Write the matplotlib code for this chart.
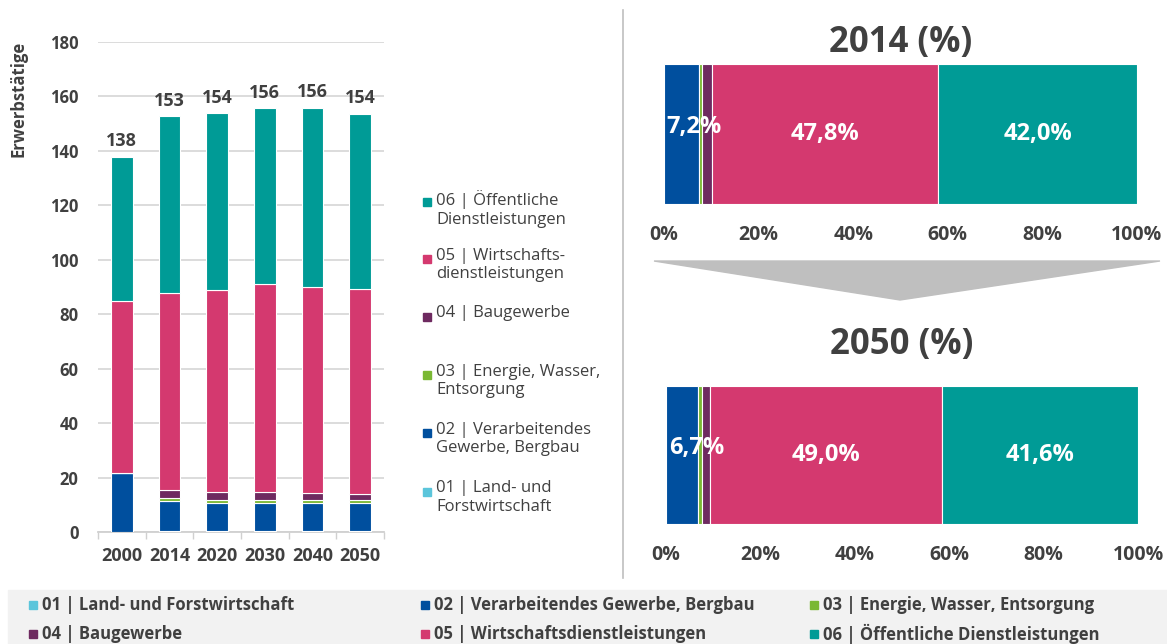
import matplotlib
matplotlib.use("Agg")
import matplotlib.pyplot as plt
from matplotlib.patches import Rectangle, Polygon
from matplotlib.lines import Line2D
import numpy as np

plt.rcParams['font.family'] = ['Open Sans', 'DejaVu Sans']

# ---------------- data ----------------
years = ["2000", "2014", "2020", "2030", "2040", "2050"]
sector_labels_short = ["01 | Land- und Forstwirtschaft",
                       "02 | Verarbeitendes Gewerbe, Bergbau",
                       "03 | Energie, Wasser, Entsorgung",
                       "04 | Baugewerbe",
                       "05 | Wirtschaftsdienstleistungen",
                       "06 | Öffentliche Dienstleistungen"]
sector_labels_wrapped = ["01 | Land- und\nForstwirtschaft",
                         "02 | Verarbeitendes\nGewerbe, Bergbau",
                         "03 | Energie, Wasser,\nEntsorgung",
                         "04 | Baugewerbe",
                         "05 | Wirtschafts-\ndienstleistungen",
                         "06 | Öffentliche\nDienstleistungen"]
colors = ["#5BC5DB", "#004F9E", "#7AB833", "#6E2A60", "#D4396F", "#009B96"]

s01_land = [0.0, 0.4, 0.4, 0.4, 0.4, 0.4]
s02_verarb = [21.8, 10.8, 10.2, 10.2, 10.2, 10.2]
s03_energie = [0.0, 1.3, 1.2, 1.2, 1.2, 1.0]
s04_bau = [0.0, 2.8, 2.8, 2.9, 2.4, 2.3]
s05_wirtschaft = [63.1, 72.5, 74.2, 76.2, 75.6, 75.4]
s06_oeffentlich = [52.9, 64.8, 65.0, 64.8, 66.0, 64.3]

share_2014 = [0.1, 7.2, 0.8, 2.1, 47.8, 42.0]
share_2050 = [0.1, 6.7, 0.8, 1.8, 49.0, 41.6]
pct_ticks = [0, 20, 40, 60, 80, 100]
y_ticks = [0, 20, 40, 60, 80, 100, 120, 140, 160, 180]

series = [s01_land, s02_verarb, s03_energie, s04_bau, s05_wirtschaft, s06_oeffentlich]

W, H = 1167, 644
fig = plt.figure(figsize=(W / 100, H / 100), dpi=100)
TXT = "#404040"


def ax_px(l, t, r, b):
    return fig.add_axes([l / W, 1 - b / H, (r - l) / W, (b - t) / H])


# ---------------- left stacked bar chart ----------------
ax = ax_px(98, 41.7, 384, 532)
x = np.arange(len(years))
bottom = np.zeros(len(years))
for vals, col in zip(series, colors):
    v = np.array(vals)
    ax.bar(x, v, bottom=bottom, width=0.455, color=col, edgecolor="white",
           linewidth=0.8, zorder=3)
    bottom += v
for xi, tot in zip(x, bottom):
    ax.annotate(f"{tot:.0f}", (xi, tot), xytext=(0, 4.5), textcoords="offset points",
                ha="center", va="bottom", fontsize=13, fontweight="bold", color=TXT)
ax.set_xlim(-0.5, len(years) - 0.5)
ax.set_ylim(0, 180)
ax.set_yticks(y_ticks)
ax.set_yticklabels([str(t) for t in y_ticks], fontsize=12, fontweight="bold", color=TXT)
ax.set_xticks(x)
ax.set_xticklabels(years, fontsize=13, fontweight="bold", color=TXT)
ax.set_xticks(np.arange(-0.5, len(years), 1.0), minor=True)
ax.tick_params(axis="x", which="major", length=0, pad=11)
ax.tick_params(axis="x", which="minor", length=5, color="#D0D0D0", width=1)
ax.tick_params(axis="y", length=0, pad=14)
ax.yaxis.grid(True, color="#D9D9D9", linewidth=1.3, zorder=0)
ax.set_axisbelow(True)
for sp in ["top", "right", "left"]:
    ax.spines[sp].set_visible(False)
ax.spines["bottom"].set_color("#D0D0D0")
ax.spines["bottom"].set_linewidth(1.3)
fig.text(19 / W, 1 - 99 / H, "Erwerbstätige", rotation=90, ha="center", va="center",
         fontsize=12, fontweight="bold", color=TXT)

# ---------------- middle legend ----------------
legend_y = [491.7, 433, 375, 316.7, 259, 201.7]  # first-line centers, for 01..06
for lab, col, yy in zip(sector_labels_wrapped, colors, legend_y):
    fig.patches.append(Rectangle((423 / W, 1 - (yy + 4) / H), 8 / W, 8 / H,
                                 transform=fig.transFigure, color=col))
    fig.text(436 / W, 1 - (yy - 11.5) / H, lab, ha="left", va="top", fontsize=12,
             color=TXT, linespacing=1.2)

# divider
fig.add_artist(Line2D([623 / W, 623 / W], [1 - 10 / H, 1 - 578 / H],
                      transform=fig.transFigure, color="#BFBFBF", linewidth=1.2))


# ---------------- right 100% bars ----------------
def share_bar(rect, shares, title, title_y):
    a = ax_px(*rect)
    left = 0.0
    for i, (s, col) in enumerate(zip(shares, colors)):
        a.barh(0, s, left=left, height=1.0, color=col, edgecolor="white",
               linewidth=0.8)
        lbl = f"{s:.1f}%".replace(".", ",")
        if i == 1:
            a.text(left + 0.5, 0.05, lbl, ha="left", va="center", color="white",
                   fontsize=17, fontweight="bold")
        elif s > 20:
            a.text(left + s / 2, 0, lbl, ha="center", va="center", color="white",
                   fontsize=17, fontweight="bold")
        left += s
    a.set_xlim(0, 100)
    a.set_ylim(-0.5, 0.5)
    a.set_yticks([])
    a.set_xticks(pct_ticks)
    a.set_xticklabels([f"{t}%" for t in pct_ticks], fontsize=14, fontweight="bold",
                      color=TXT)
    a.tick_params(axis="x", length=0, pad=15)
    for sp in a.spines.values():
        sp.set_visible(False)
    fig.text((rect[0] + rect[2]) / 2 / W, 1 - title_y / H, title, ha="center",
             va="center", fontsize=25, fontweight="bold", color=TXT)


share_bar((664, 64, 1137, 204), share_2014, "2014 (%)", 43)
share_bar((666, 386, 1138, 524), share_2050, "2050 (%)", 345)

# arrow trapezoid
fig.patches.append(Polygon([[654 / W, 1 - 261 / H], [1160 / W, 1 - 261 / H],
                            [900 / W, 1 - 300 / H]], closed=True,
                           transform=fig.transFigure, color="#BFBFBF"))

# ---------------- bottom legend ----------------
fig.patches.append(Rectangle((8 / W, 0), (W - 8) / W, (H - 590) / H,
                             transform=fig.transFigure, color="#F2F2F2", zorder=0))
col_x = [29, 421, 810]
row_y = [605, 634]
for i, (lab, col) in enumerate(zip(sector_labels_short, colors)):
    cx = col_x[i % 3]
    cy = row_y[i // 3]
    fig.patches.append(Rectangle((cx / W, 1 - (cy + 4) / H), 8 / W, 8 / H,
                                 transform=fig.transFigure, color=col, zorder=2))
    fig.text((cx + 13) / W, 1 - cy / H, lab, ha="left", va="center", fontsize=12,
             fontweight="bold", color=TXT)

fig.savefig("out.png", dpi=100)
